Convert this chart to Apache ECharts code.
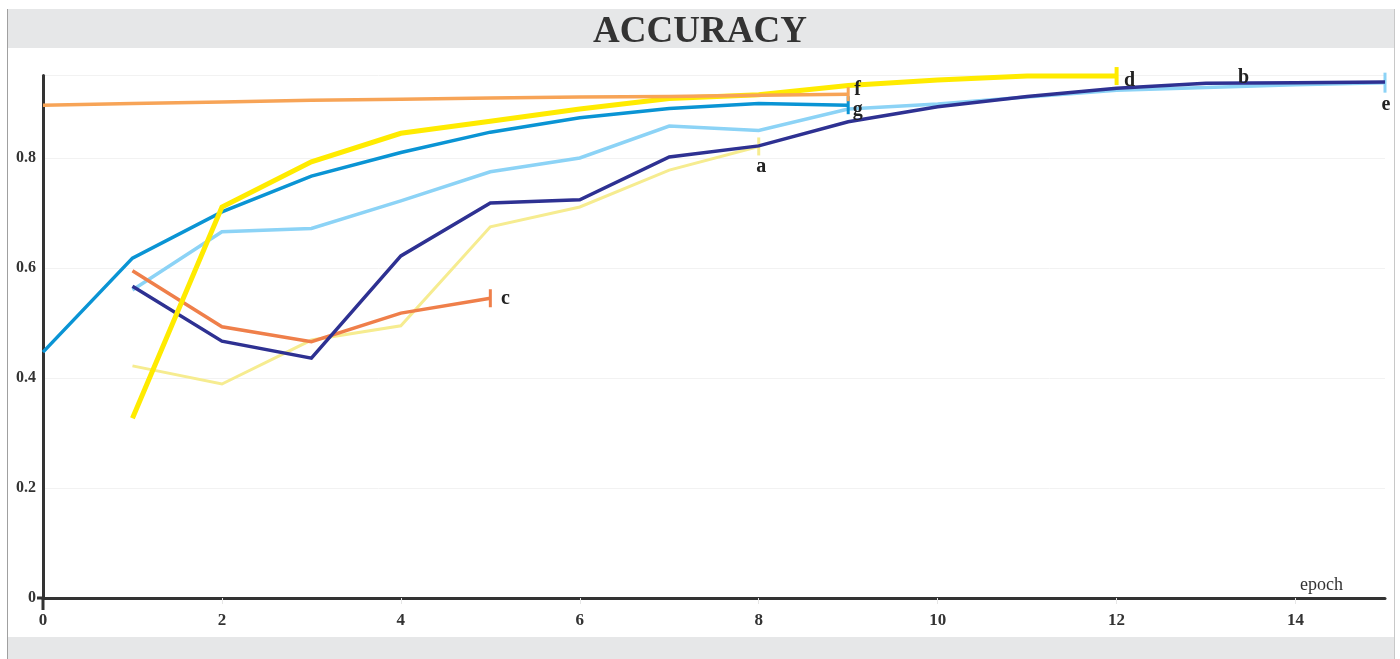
<!DOCTYPE html>
<html>
<head>
<meta charset="utf-8">
<script src="https://cdn.jsdelivr.net/npm/echarts@6/dist/echarts.min.js"></script>
<style>
html,body{margin:0;padding:0;background:#fff;}
#chart{width:1400px;height:659px;}
</style>
</head>
<body>
<div id="chart"></div>
<script>
// ---- data ----
const titleText = 'ACCURACY';
const xAxisName = 'epoch';
const seriesNames = ['a', 'b', 'c', 'd', 'e', 'f', 'g'];
// first epoch of each series
const aStart = 1, bStart = 1, cStart = 1, dStart = 1, eStart = 1, fStart = 0, gStart = 0;
const aValues = [0.422, 0.389, 0.469, 0.495, 0.675, 0.711, 0.778, 0.821];
const bValues = [0.567, 0.467, 0.436, 0.622, 0.718, 0.724, 0.802, 0.822, 0.866, 0.893, 0.912, 0.927, 0.936, 0.937, 0.938];
const cValues = [0.595, 0.493, 0.466, 0.518, 0.545];
const dValues = [0.327, 0.711, 0.793, 0.845, 0.867, 0.889, 0.908, 0.915, 0.932, 0.942, 0.949, 0.949];
const eValues = [0.560, 0.666, 0.672, 0.722, 0.775, 0.800, 0.858, 0.850, 0.889, 0.898, 0.911, 0.923, 0.928, 0.933, 0.937];
const fValues = [0.896, 0.899, 0.902, 0.905, 0.907, 0.909, 0.911, 0.912, 0.914, 0.916];
const gValues = [0.447, 0.618, 0.702, 0.767, 0.810, 0.847, 0.873, 0.890, 0.899, 0.896];
const bLabelEpoch = 13;

const serif = "'Liberation Serif', 'DejaVu Serif', serif";

function build(values, start, opts) {
  const n = values.length;
  return values.map((v, i) => {
    const x = start + i;
    const item = { value: [x, v] };
    if (i === n - 1 && opts.cap) {
      item.symbol = 'rect';
      item.symbolSize = opts.cap;
    }
    if (x === opts.labelAt) {
      if (!item.symbol) {
        item.symbol = 'circle';
        item.symbolSize = 1;
        item.itemStyle = { color: 'rgba(0,0,0,0)' };
      }
      item.label = Object.assign({
        show: true,
        formatter: opts.name,
        fontFamily: serif,
        fontWeight: 'bold',
        fontSize: 20,
        color: '#222',
        align: 'center',
        verticalAlign: 'middle'
      }, opts.label);
    }
    return item;
  });
}

function line(name, values, start, color, width, z, opts) {
  return {
    name: name,
    type: 'line',
    symbol: 'none',
    showSymbol: true,
    z: z,
    lineStyle: { color: color, width: width, join: 'miter' },
    itemStyle: { color: color },
    emphasis: { disabled: true },
    labelLayout: { hideOverlap: false },
    data: build(values, start, Object.assign({ name: name }, opts))
  };
}

const chart = echarts.init(document.getElementById('chart'), null, { renderer: 'canvas' });

const option = {
  animation: false,
  backgroundColor: '#ffffff',
  title: {
    text: titleText,
    left: 'center',
    top: 9,
    textStyle: { fontFamily: serif, fontWeight: 'bold', fontSize: 37, color: '#333' }
  },
  grid: { left: 43, right: 15, top: 75.5, bottom: 61, containLabel: false },
  xAxis: {
    type: 'value',
    min: 0, max: 15, interval: 2,
    name: xAxisName,
    nameLocation: 'end',
    nameGap: -85,
    nameTextStyle: { fontFamily: serif, fontSize: 18, color: '#333', verticalAlign: 'bottom', padding: [0, 0, 4, 0] },
    axisLine: { show: true, onZero: false, lineStyle: { color: '#333', width: 3 } },
    axisTick: { show: true, inside: false, length: 6, lineStyle: { color: '#e6e6e6' } },
    axisLabel: { showMaxLabel: false, margin: 14, fontFamily: serif, fontWeight: 'bold', fontSize: 17, color: '#333' },
    splitLine: { show: false }
  },
  yAxis: {
    type: 'value',
    min: 0, max: 0.95, interval: 0.2,
    axisLine: { show: true, onZero: false, lineStyle: { color: '#333', width: 3 } },
    axisTick: { show: false },
    axisLabel: { showMaxLabel: false, margin: 7, fontFamily: serif, fontWeight: 'bold', fontSize: 16, color: '#333' },
    splitLine: { show: true, lineStyle: { color: '#f2f2f2', width: 1 } }
  },
  graphic: [
    { type: 'rect', z: -1, shape: { x: 7, y: 9, width: 1387, height: 39 }, style: { fill: '#e6e7e8' } },
    { type: 'rect', z: -1, shape: { x: 7, y: 637, width: 1387, height: 22 }, style: { fill: '#e6e7e8' } },
    { type: 'line', z: -1, shape: { x1: 7.5, y1: 9, x2: 7.5, y2: 659 }, style: { stroke: '#a0a0a0', lineWidth: 1 } },
    { type: 'line', z: -1, shape: { x1: 1394.5, y1: 9, x2: 1394.5, y2: 659 }, style: { stroke: '#c8c8c8', lineWidth: 1 } }
  ],
  series: [
    line('a', aValues, aStart, '#f6ec90', 3, 2, { cap: [3, 18], labelAt: aStart + aValues.length - 1, label: { position: [4, 29.5] } }),
    line('e', eValues, eStart, '#8cd3f6', 3.5, 3, { cap: [3, 20], labelAt: eStart + eValues.length - 1, label: { position: [2.5, 32.4] } }),
    line('c', cValues, cStart, '#ef7f4a', 3.5, 4, { cap: [3, 18], labelAt: cStart + cValues.length - 1, label: { position: [16.5, 9.8] } }),
    line('b', bValues, bStart, '#2e3192', 3.5, 5, { labelAt: bLabelEpoch, label: { position: [38, -4.7] } }),
    line('g', gValues, gStart, '#0a94d4', 3.5, 6, { cap: [3, 18], labelAt: gStart + gValues.length - 1, label: { position: [11, 14] } }),
    line('d', dValues, dStart, '#ffeb00', 5, 7, { cap: [4, 18], labelAt: dStart + dValues.length - 1, label: { position: [15, 14] } }),
    line('f', fValues, fStart, '#f7a457', 3.5, 8, { cap: [3, 14], labelAt: fStart + fValues.length - 1, label: { position: [11, 3] } })
  ]
};
chart.setOption(option);

// small axis-line extensions past the origin (decoration)
const o = chart.convertToPixel({ gridIndex: 0 }, [0, 0]);
chart.setOption({
  graphic: option.graphic.concat([
    { type: 'line', z: 10, shape: { x1: o[0] - 6, y1: o[1], x2: o[0], y2: o[1] }, style: { stroke: '#333', lineWidth: 3 } },
    { type: 'line', z: 10, shape: { x1: o[0], y1: o[1], x2: o[0], y2: o[1] + 12 }, style: { stroke: '#333', lineWidth: 3 } }
  ])
});
</script>
</body>
</html>
